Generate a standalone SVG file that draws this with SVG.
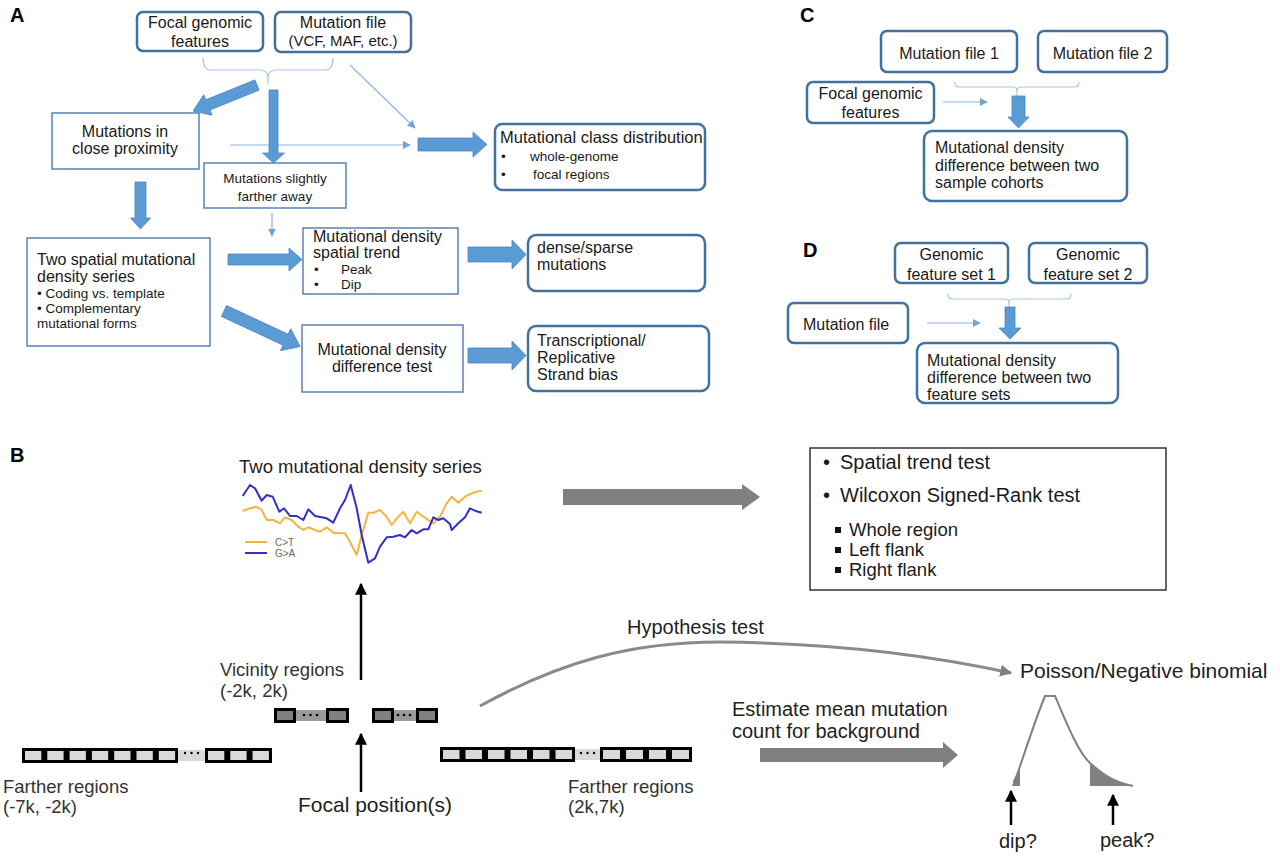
<svg xmlns="http://www.w3.org/2000/svg" width="1280" height="856" viewBox="0 0 1280 856">
<defs>
<style>
text{font-family:"Liberation Sans",Arial,sans-serif;fill:#1a1a1a}
.lbl{font-weight:bold;font-size:20px;fill:#000}
.t16{font-size:16px}
.t15{font-size:15px}
.t13{font-size:13.5px}
.mid{text-anchor:middle}
.rb{fill:#fff;stroke:#41719c;stroke-width:2.5}
.sb{fill:#fff;stroke:#5a82b4;stroke-width:1.5}
.thick{fill:#5b9bd5;stroke:#4a86c0;stroke-width:0.8}
.thin{fill:none;stroke:#8db4e2;stroke-width:1.2}
.brace{fill:none;stroke:#a9c5e8;stroke-width:1.2}
.gray{fill:#808080}
.blk{stroke:#000;stroke-width:2.5;fill:none}
.b20{font-size:20px}
.b19{font-size:18.5px}
.b18{font-size:18.5px;fill:#333}
</style>
<marker id="mThin" viewBox="0 0 10 10" refX="9" refY="5" markerWidth="8" markerHeight="8" markerUnits="userSpaceOnUse" orient="auto"><path d="M0,0 L10,5 L0,10 z" fill="#6fa3d8"/></marker>
<marker id="mGray" viewBox="0 0 10 10" refX="9" refY="5" markerWidth="12" markerHeight="12" markerUnits="userSpaceOnUse" orient="auto"><path d="M0,0 L10,5 L0,10 z" fill="#808080"/></marker>
<marker id="mBlk" viewBox="0 0 10 10" refX="9" refY="5" markerWidth="12" markerHeight="12" markerUnits="userSpaceOnUse" orient="auto"><path d="M0,0 L10,5 L0,10 z" fill="#000"/></marker>
</defs>
<rect width="1280" height="856" fill="#fff"/>

<!-- Panel labels -->
<text class="lbl" x="10" y="22">A</text>
<text class="lbl" x="800" y="22">C</text>
<text class="lbl" x="803" y="257">D</text>
<text class="lbl" x="10" y="462">B</text>

<!-- Panel A nodes -->
<g id="a-focal"><rect class="rb" x="137" y="12" width="126" height="39" rx="6"/><text class="t16 mid" x="200" y="28">Focal genomic</text><text class="t16 mid" x="200" y="47">features</text></g>
<g id="a-mutfile"><rect class="rb" x="275" y="12" width="136" height="40" rx="6"/><text class="t16 mid" x="343" y="28">Mutation file</text><text class="t15 mid" x="343" y="46">(VCF, MAF, etc.)</text></g>
<g id="a-close"><rect class="sb" x="52" y="113" width="147" height="56"/><text class="t16 mid" x="125" y="137">Mutations in</text><text class="t16 mid" x="125" y="154">close proximity</text></g>
<g id="a-farther"><rect class="sb" x="204" y="163" width="142" height="45"/><text class="t13 mid" x="275" y="183">Mutations slightly</text><text class="t13 mid" x="275" y="201">farther away</text></g>
<g id="a-class"><rect class="rb" x="495" y="124" width="210" height="66" rx="7"/><text x="500" y="143" style="font-size:16.5px">Mutational class distribution</text><text class="t13" x="501" y="161">•</text><text class="t13" x="530" y="161">whole-genome</text><text class="t13" x="501" y="179">•</text><text class="t13" x="533" y="179">focal regions</text></g>
<g id="a-series"><rect class="sb" x="27" y="238" width="183" height="108"/><text class="t16" x="37" y="265">Two spatial mutational</text><text class="t16" x="37" y="282">density series</text><text class="t13" x="37" y="298">• Coding vs. template</text><text class="t13" x="37" y="313">• Complementary</text><text class="t13" x="37" y="328">mutational forms</text></g>
<g id="a-trend"><rect class="sb" x="303" y="228" width="155" height="66"/><text class="t16" x="313" y="242">Mutational density</text><text class="t16" x="313" y="258">spatial trend</text><text class="t13" x="314" y="274">•</text><text class="t13" x="341" y="274">Peak</text><text class="t13" x="314" y="289">•</text><text class="t13" x="341" y="289">Dip</text></g>
<g id="a-diff"><rect class="sb" x="302" y="325" width="161" height="67"/><text class="t16 mid" x="382" y="355">Mutational density</text><text class="t16 mid" x="382" y="372">difference test</text></g>
<g id="a-dense"><rect class="rb" x="528" y="235" width="177" height="56" rx="8"/><text class="t16" x="537" y="253">dense/sparse</text><text class="t16" x="537" y="270">mutations</text></g>
<g id="a-bias"><rect class="rb" x="528" y="326" width="181" height="65" rx="8"/><text class="t16" x="537" y="346">Transcriptional/</text><text class="t16" x="537" y="363">Replicative</text><text class="t16" x="537" y="380">Strand bias</text></g>

<!-- Panel C nodes -->
<g id="c-mut1"><rect class="rb" x="881" y="31" width="136" height="41" rx="6"/><text class="t16 mid" x="949" y="59">Mutation file 1</text></g>
<g id="c-mut2"><rect class="rb" x="1038" y="31" width="129" height="41" rx="6"/><text class="t16 mid" x="1102.5" y="59">Mutation file 2</text></g>
<g id="c-focal"><rect class="rb" x="807" y="82" width="127" height="41" rx="6"/><text class="t16 mid" x="870.5" y="99">Focal genomic</text><text class="t16 mid" x="870.5" y="118">features</text></g>
<g id="c-result"><rect class="rb" x="924" y="131" width="203" height="70" rx="8"/><text class="t16" x="935" y="153">Mutational density</text><text class="t16" x="935" y="171">difference between two</text><text class="t16" x="935" y="188">sample cohorts</text></g>

<!-- Panel D nodes -->
<g id="d-set1"><rect class="rb" x="895" y="243" width="113" height="40" rx="6"/><text class="t16 mid" x="951.5" y="260">Genomic</text><text class="t16 mid" x="951.5" y="280">feature set 1</text></g>
<g id="d-set2"><rect class="rb" x="1029" y="243" width="118" height="40" rx="6"/><text class="t16 mid" x="1088" y="260">Genomic</text><text class="t16 mid" x="1088" y="280">feature set 2</text></g>
<g id="d-mut"><rect class="rb" x="788" y="303" width="120" height="40" rx="6"/><text class="t16" x="803" y="330">Mutation file</text></g>
<g id="d-result"><rect class="rb" x="917" y="343" width="201" height="60" rx="8"/><text class="t16" x="927" y="366">Mutational density</text><text class="t16" x="927" y="383">difference between two</text><text class="t16" x="927" y="400">feature sets</text></g>

<!-- Connectors -->
<g id="connectors">
<path class="brace" d="M203,58 Q203,70 211,70 L260,70 Q268,70 268,78 L268,84 M268,78 Q268,70 276,70 L325,70 Q333,70 333,58"/>
<path class="brace" d="M955,82 Q955,87 959,87 L1013,87 Q1017,87 1017,91 L1017,96 M1017,91 Q1017,87 1021,87 L1075,87 Q1079,87 1079,82"/>
<path class="brace" d="M948,294 Q948,299 952,299 L1005,299 Q1009,299 1009,303 L1009,307 M1009,303 Q1009,299 1013,299 L1067,299 Q1071,299 1071,294"/>
<line class="thin" x1="350" y1="65" x2="415" y2="128" marker-end="url(#mThin)"/>
<line class="thin" x1="230" y1="145" x2="410" y2="145" marker-end="url(#mThin)"/>
<line class="thin" x1="272" y1="213" x2="272" y2="236" marker-end="url(#mThin)"/>
<line class="thin" x1="943" y1="102" x2="987" y2="102" marker-end="url(#mThin)"/>
<line class="thin" x1="927" y1="323" x2="980" y2="323" marker-end="url(#mThin)"/>
<!-- thick blue arrows -->
<polygon class="thick" transform="translate(257,85) rotate(157.9)" points="0,-5.5 53,-5.5 53,-11 69,0 53,11 53,5.5 0,5.5"/>
<polygon class="thick" transform="translate(273.5,90) rotate(90)" points="0,-4.5 63,-4.5 63,-11 73,0 63,11 63,4.5 0,4.5"/>
<polygon class="thick" points="418,138 473,138 473,132 487,144.5 473,157 473,151 418,151"/>
<polygon class="thick" transform="translate(140.5,182) rotate(90)" points="0,-5.5 36,-5.5 36,-10 47,0 36,10 36,5.5 0,5.5"/>
<polygon class="thick" points="228,254 289,254 289,248 302,259.5 289,271 289,265 228,265"/>
<polygon class="thick" transform="translate(224,311) rotate(25)" points="0,-6 68,-6 68,-12 84,0 68,12 68,6 0,6"/>
<polygon class="thick" points="468,247 512,247 512,240 526,254.5 512,269 512,262 468,262"/>
<polygon class="thick" points="468,348 512,348 512,341 526,355.5 512,370 512,363 468,363"/>
<polygon class="thick" transform="translate(1018.5,96) rotate(90)" points="0,-6.5 21,-6.5 21,-10.5 32,0 21,10.5 21,6.5 0,6.5"/>
<polygon class="thick" transform="translate(1010,307) rotate(90)" points="0,-5 21,-5 21,-11 32,0 21,11 21,5 0,5"/>
<!-- Panel B connectors -->
<polygon class="gray" points="563,489 742,489 742,484 760,497 742,510 742,505 563,505"/>
<polygon class="gray" points="760,748 943,748 943,742 958,755 943,768 943,762 760,762"/>
<path d="M480,706 C560,662 630,642 720,642 C830,643 930,655 1011,673" fill="none" stroke="#8a8a8a" stroke-width="3" marker-end="url(#mGray)"/>
<line class="blk" x1="361" y1="680" x2="361" y2="584" marker-end="url(#mBlk)"/>
<line class="blk" x1="361" y1="792" x2="361" y2="734" marker-end="url(#mBlk)"/>
<line class="blk" x1="1011" y1="825" x2="1011" y2="791" marker-end="url(#mBlk)"/>
<line class="blk" x1="1113" y1="825" x2="1113" y2="795" marker-end="url(#mBlk)"/>
</g>

<!-- Panel B: density series plot -->
<g id="b-plot">
<text x="239" y="473" style="font-size:18.5px;fill:#222">Two mutational density series</text>
<polyline fill="none" stroke="#f3b53f" stroke-width="2" stroke-linejoin="round" points="242.7,511 250,508.3 256.7,506.7 261.7,510 266.7,520 273.3,520 280,523.3 285,517.3 291.7,520 298.3,526.7 303.3,530 308.3,527.3 315,530 320,531.7 326.7,527.3 333.3,532.7 340,533.3 345,533.3 350.7,543.3 356.7,555 361.7,535 368.3,512.7 373.3,512.7 380,510 386.7,516.7 391.7,525 398.3,516.7 403.3,511.7 410,523.3 416.7,511.7 423.3,516.7 433.3,523.3 440,516.7 446.7,503.3 451.7,496.7 458.3,502.7 465,496.7 471.7,493.3 476.7,491.7 481.7,490.7"/>
<polyline fill="none" stroke="#3030c8" stroke-width="2" stroke-linejoin="round" points="242.7,496 250,485 255,488.3 261.7,500.7 266.7,495 272.7,496.7 279.3,511.7 284,508.3 290,516 296.7,516 303.3,520 308.3,509.3 315,516 321.7,517.3 326.7,518.3 333.3,522.7 340,508.3 345,500 350.7,485 356.7,508.3 361.7,535 368.3,562.7 375,558.3 380,546.7 386.7,537.3 393.3,536.7 400,535 405,537.3 411.7,530 416.7,533.3 423.3,529.3 428.3,529.3 433.3,517.3 438.3,520 443.3,518.3 450,524 451.7,530 458.3,523.3 465,517.3 470,508.3 475,510.7 481.7,512.7"/>
<line x1="245" y1="542" x2="267" y2="542" stroke="#f3b53f" stroke-width="2"/>
<text x="275" y="546" style="font-size:10px;fill:#666">C&gt;T</text>
<line x1="245" y1="553" x2="267" y2="553" stroke="#3030c8" stroke-width="2"/>
<text x="275" y="557" style="font-size:10px;fill:#666">G&gt;A</text>
</g>

<!-- Panel B: tests box -->
<g id="b-tests">
<rect x="810" y="448" width="356" height="142" fill="#fff" stroke="#333" stroke-width="1.5"/>
<text class="b20" x="823" y="469">•</text><text class="b20" x="840" y="469">Spatial trend test</text>
<text class="b20" x="823" y="502">•</text><text class="b20" x="840" y="502">Wilcoxon Signed-Rank test</text>
<rect x="835" y="527" width="6" height="6" fill="#111"/><text class="b19" x="849" y="536">Whole region</text>
<rect x="835" y="547" width="6" height="6" fill="#111"/><text class="b19" x="849" y="556">Left flank</text>
<rect x="835" y="567" width="6" height="6" fill="#111"/><text class="b19" x="849" y="576">Right flank</text>
</g>

<!-- Panel B: regions -->
<g id="b-vicinity">
<text class="b18" x="220" y="676">Vicinity regions</text>
<text class="b18" x="220" y="697">(-2k, 2k)</text>
<rect x="295" y="710" width="31" height="11" fill="#9a9a9a"/>
<rect x="275.5" y="709.5" width="19" height="12" fill="#808080" stroke="#000" stroke-width="3"/>
<rect x="327.5" y="709.5" width="20" height="12" fill="#808080" stroke="#000" stroke-width="3"/>
<circle cx="304" cy="715" r="1.3"/><circle cx="310.5" cy="715" r="1.3"/><circle cx="317" cy="715" r="1.3"/>
<rect x="393" y="710" width="23" height="11" fill="#9a9a9a"/>
<rect x="373.5" y="709.5" width="19" height="12" fill="#808080" stroke="#000" stroke-width="3"/>
<rect x="417.5" y="709.5" width="19" height="12" fill="#808080" stroke="#000" stroke-width="3"/>
<circle cx="398" cy="715" r="1.3"/><circle cx="404" cy="715" r="1.3"/><circle cx="410" cy="715" r="1.3"/>
</g>

<g id="b-focal">
<text x="298" y="812" style="font-size:21px;fill:#222">Focal position(s)</text>
</g>

<g id="b-farther-left">
<rect x="178" y="750" width="27" height="11" fill="#d9d9d9"/>
<circle cx="185" cy="753" r="1.2"/><circle cx="191.5" cy="753" r="1.2"/><circle cx="198" cy="753" r="1.2"/>
<rect x="22" y="748" width="156" height="15" fill="#000"/>
<rect x="205" y="748" width="67" height="15" fill="#000"/>
<g fill="#d9d9d9">
<rect x="25" y="751" width="16.3" height="9"/><rect x="47.3" y="751" width="16.3" height="9"/><rect x="69.6" y="751" width="16.3" height="9"/><rect x="91.9" y="751" width="16.3" height="9"/><rect x="114.2" y="751" width="16.3" height="9"/><rect x="136.5" y="751" width="16.3" height="9"/><rect x="158.8" y="751" width="16.3" height="9"/>
<rect x="208" y="751" width="16.3" height="9"/><rect x="230.3" y="751" width="16.3" height="9"/><rect x="252.6" y="751" width="16.3" height="9"/>
</g>
<text class="b18" x="3" y="793">Farther regions</text>
<text class="b18" x="3" y="813">(-7k, -2k)</text>
</g>

<g id="b-farther-right">
<rect x="575" y="749" width="25" height="11" fill="#d9d9d9"/>
<circle cx="581" cy="753" r="1.2"/><circle cx="587.5" cy="753" r="1.2"/><circle cx="594" cy="753" r="1.2"/>
<rect x="440" y="747" width="135" height="15" fill="#000"/>
<rect x="600" y="747" width="92" height="15" fill="#000"/>
<g fill="#d9d9d9">
<rect x="443" y="750" width="16.5" height="9"/><rect x="465.5" y="750" width="16.5" height="9"/><rect x="488" y="750" width="16.5" height="9"/><rect x="510.5" y="750" width="16.5" height="9"/><rect x="533" y="750" width="16.5" height="9"/><rect x="555.5" y="750" width="16.5" height="9"/>
<rect x="603" y="750" width="17" height="9"/><rect x="626" y="750" width="17" height="9"/><rect x="649" y="750" width="17" height="9"/><rect x="672" y="750" width="17" height="9"/>
</g>
<text class="b18" x="568" y="793">Farther regions</text>
<text class="b18" x="568" y="813">(2k,7k)</text>
</g>

<g id="b-hypothesis">
<text x="627" y="634" style="font-size:20px;fill:#222">Hypothesis test</text>
</g>
<g id="b-estimate">
<text x="732" y="716" style="font-size:20px;fill:#222">Estimate mean mutation</text>
<text x="732" y="738" style="font-size:20px;fill:#222">count for background</text>
</g>

<g id="b-distribution">
<text x="1020" y="678" style="font-size:21px;fill:#222">Poisson/Negative binomial</text>
<path d="M1013,786 L1013,781 C1015,777 1018,772 1020,768 L1020,786 Z" fill="#808080"/>
<path d="M1090,763 C1100,772 1112,782 1133,786 L1090,786 Z" fill="#808080"/>
<path d="M1013,786 C1020,768 1032,728 1045,696 L1055,696 C1066,722 1078,752 1090,763 C1100,772 1112,782 1133,786" fill="none" stroke="#808080" stroke-width="2"/>
<text x="999" y="848" style="font-size:20px;fill:#222">dip?</text>
<text x="1100" y="847" style="font-size:20px;fill:#222">peak?</text>
</g>
</svg>
